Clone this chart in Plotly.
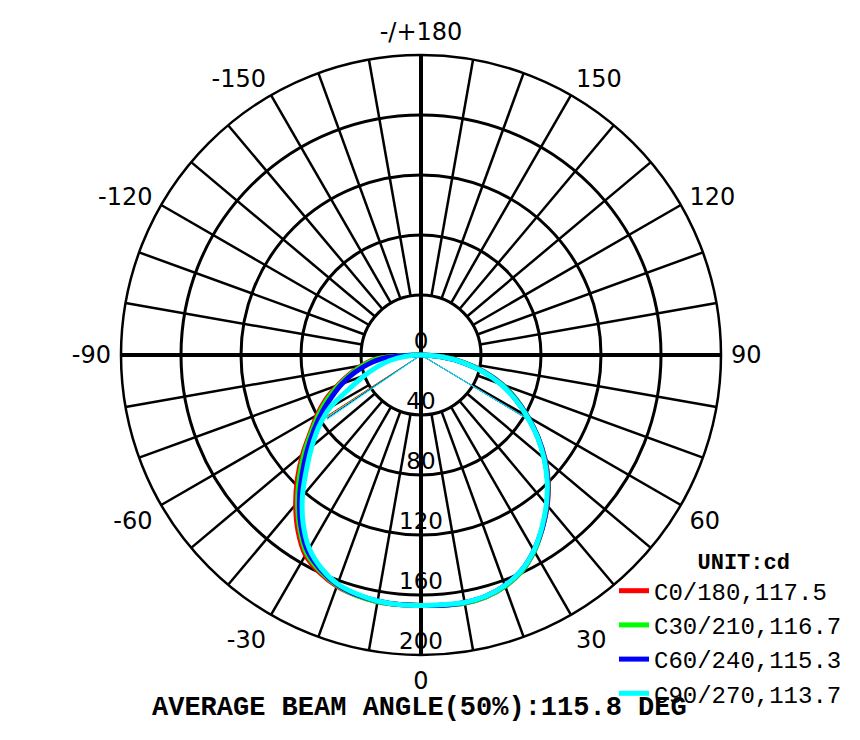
import plotly.graph_objects as go

# gamma angles (deg), 0 = straight down
GAMMA = [0, 5, 10, 15, 20, 25, 30, 35, 40, 45, 50, 55, 60, 65, 70, 75, 80, 85, 90]

# candela values, right half of each plane (C0, C30, C60, C90)
C0 = [167, 167.5, 168, 167, 164, 159, 151, 141, 131, 120, 108, 95, 82, 70, 58, 44, 29, 14, 0]
C30 = [167, 167.5, 168, 167, 164, 159, 151, 141, 130.5, 119.5, 107.5, 95, 82, 70, 57.5, 43.5, 28.5, 14, 0]
C60 = [167, 167.5, 167.5, 166.5, 163.5, 158.5, 150.5, 141, 130.5, 119.5, 107.5, 95, 82, 69.5, 57, 43, 28, 13.5, 0]
C90 = [167, 167, 167.5, 166.5, 163.5, 158.5, 150.5, 140.5, 130, 119, 107, 94.5, 81.5, 69, 56.5, 42.5, 28, 13.5, 0]

# left half (C180, C210, C240, C270)
C180 = [167, 167, 167, 166, 164, 160, 154, 143, 130, 116.5, 103, 90, 80, 70, 59, 49, 40, 30, 0]
C210 = [167, 167, 167, 166, 163.5, 159, 152.5, 141, 128, 114.5, 101.5, 89, 78.5, 68.5, 58, 48, 39, 28.5, 0]
C240 = [167, 167, 166.5, 165.5, 163, 158, 151, 139.5, 126, 112, 99, 87, 76, 65.5, 56, 46, 36, 25.5, 0]
C270 = [167, 167, 166.5, 165, 162.5, 157, 149, 137, 123, 108, 95, 83, 70, 52, 40, 30, 21, 10, 0]

PLANES = ["C0/180,117.5", "C30/210,116.7", "C60/240,115.3", "C90/270,113.7"]
COLORS = ["#ff0000", "#00ff00", "#0000ff", "#00ffff"]

# thin chords to the origin: (left theta, left r, right theta, right r)
CHORDS = [
    (-57, 77, 59, 81.5),
    (-56.5, 76, 59, 81.5),
    (-56, 75.5, 59, 81.5),
    (-55.5, 76, 59, 81.5),
]

RADIAL_TICKS = [0, 40, 80, 120, 160, 200]
ANGLE_TICKS = [0, 30, 60, 90, 120, 150, 180, 210, 240, 270, 300, 330]
ANGLE_TEXT = ["0", "30", "60", "90", "120", "150", "-/+180", "-150", "-120", "-90", "-60", "-30"]

BEAM_TEXT = "AVERAGE BEAM ANGLE(50%):115.8 DEG"


def _half_to_full(left, right):
    theta = [-g for g in GAMMA[::-1]] + GAMMA[1:]
    r = left[::-1] + right[1:]
    return theta, r


fig = go.Figure()

# spokes every 10 deg, from the inner ring out
spoke_t, spoke_r = [], []
for a in range(0, 360, 10):
    if a % 90 == 0:
        continue
    spoke_t += [a, a, None]
    spoke_r += [40, 200, None]
fig.add_trace(go.Scatterpolar(
    theta=spoke_t, r=spoke_r, mode="lines",
    line=dict(color="black", width=2.5), showlegend=False, hoverinfo="skip",
))

# main cross through the centre
fig.add_trace(go.Scatterpolar(
    theta=[0, 0, 180, None, 90, 90, 270], r=[200, 0, 200, None, 200, 0, 200],
    mode="lines", line=dict(color="black", width=4), showlegend=False, hoverinfo="skip",
))

pairs = [(C180, C0), (C210, C30), (C240, C60), (C270, C90)]
for (left, right), name, color, chord in zip(pairs, PLANES, COLORS, CHORDS):
    theta, r = _half_to_full(left, right)
    fig.add_trace(go.Scatterpolar(
        theta=theta, r=r, mode="lines", name=name,
        line=dict(color=color, width=5, shape="spline", smoothing=0.8),
    ))
    fig.add_trace(go.Scatterpolar(
        theta=[chord[0], 0, chord[2]], r=[chord[1], 0, chord[3]], mode="lines",
        line=dict(color=color, width=1), showlegend=False, hoverinfo="skip",
    ))

fig.add_trace(go.Scatterpolar(
    theta=[0] * len(RADIAL_TICKS), r=RADIAL_TICKS, mode="text",
    text=[str(v) for v in RADIAL_TICKS], textposition="top center",
    textfont=dict(family="DejaVu Sans", size=23, color="black"),
    showlegend=False, hoverinfo="skip",
))

cx, cy = 413.0, 347.0  # wanted centre, shifted for plotly's own offset
fig.update_layout(
    width=860,
    height=740,
    margin=dict(l=0, r=0, t=0, b=0),
    paper_bgcolor="white",
    plot_bgcolor="white",
    polar=dict(
        domain=dict(x=[(cx - 300) / 860, (cx + 300) / 860],
                    y=[(740 - cy - 300) / 740, (740 - cy + 300) / 740]),
        bgcolor="white",
        radialaxis=dict(
            range=[0, 200], tickvals=[40, 80, 120, 160], showticklabels=False,
            showline=False, ticks="", gridcolor="black", gridwidth=2.5,
        ),
        angularaxis=dict(
            rotation=270, direction="counterclockwise",
            tickvals=ANGLE_TICKS, ticktext=ANGLE_TEXT,
            ticks="outside", ticklen=4, tickcolor="rgba(0,0,0,0)",
            showgrid=False, showline=True, linecolor="black", linewidth=2.5,
            tickfont=dict(family="DejaVu Sans", size=24, color="black"),
        ),
    ),
    legend=dict(
        x=606 / 860, y=(740 - 532) / 740, xanchor="left", yanchor="top",
        bgcolor="rgba(0,0,0,0)", tracegroupgap=0,
        font=dict(family="Liberation Mono", size=24, color="black"),
        title=dict(text="&nbsp;&nbsp;<b>UNIT:cd</b>", side="top center",
                   font=dict(family="Liberation Mono", size=22, color="black")),
    ),
    annotations=[dict(
        text="<b>" + BEAM_TEXT + "</b>", x=142 / 860, y=40 / 740,
        xref="paper", yref="paper", xanchor="left", yanchor="middle",
        showarrow=False, font=dict(family="Liberation Mono", size=27, color="black"),
    )],
)

fig.write_html("out.html")
